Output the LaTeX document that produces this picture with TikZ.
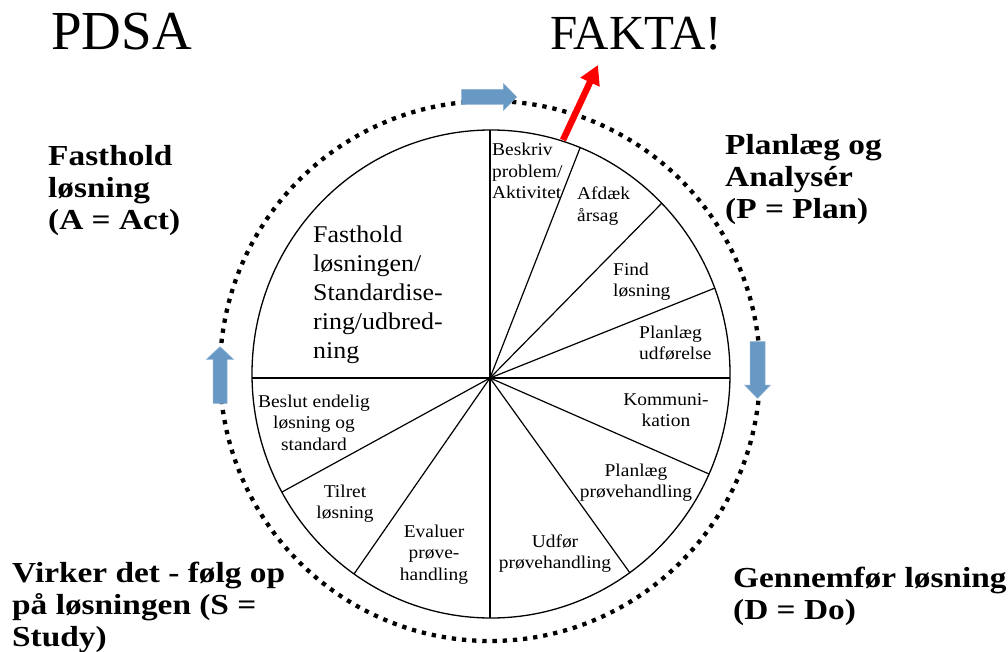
\documentclass[tikz,border=0pt]{standalone}
\usepackage{fontspec}
\setmainfont{Liberation Serif}
\newfontfamily\geo[FakeStretch=1.08]{Liberation Serif}
\newfontfamily\geobf[FakeStretch=1.15]{Liberation Serif}
\usetikzlibrary{arrows.meta}
\definecolor{arrowblue}{RGB}{104,152,196}
\newcommand\txtl[1]{\begin{tabular}[t]{@{}l@{}}#1\end{tabular}}
\newcommand\txtc[1]{\begin{tabular}[t]{@{}c@{}}#1\end{tabular}}
\begin{document}
\begin{tikzpicture}[x=1pt,y=-1pt,
  lbl/.style={inner sep=0pt, font=\geo\fontsize{18}{21.5}\selectfont},
  biglbl/.style={inner sep=0pt, font=\geo\fontsize{24}{29}\selectfont},
  phase/.style={inner sep=0pt, font=\geobf\bfseries\fontsize{29}{32}\selectfont},
  titletext/.style={inner sep=0pt},
  spoke/.style={line width=1.2pt},
  bluearrow/.style={fill=arrowblue, draw=arrowblue!75!white, line width=0.5pt},
]
\useasboundingbox (0,0) rectangle (1008,652);
% dotted outer ring
\draw[line width=4.3pt, dash pattern=on 4.3pt off 5.9pt] (490,371) circle [radius=270pt];
% wheel
\coordinate (C) at (490,378);
\coordinate (rT) at (490,130);
\coordinate (r1) at (580,148);
\coordinate (r2) at (662,203);
\coordinate (r3) at (715,288);
\coordinate (rR) at (730,378);
\coordinate (r4) at (709,474);
\coordinate (r5) at (630,573);
\coordinate (rB) at (490,618);
\coordinate (r6) at (354,574);
\coordinate (r7) at (282,492);
\coordinate (rL) at (252,378);
\coordinate (redbase) at (563,140);
\coordinate (redtip) at (598,65);
\fill[white] (491,374) ellipse [x radius=239pt, y radius=244pt];
\foreach \p in {rT,r1,r2,r3,rR,r4,r5,rB,r6,r7,rL}{\draw[spoke] (C) -- (\p);}
\draw[line width=1.3pt] (491,374) ellipse [x radius=239pt, y radius=244pt];
% red arrow
\draw[red, line width=6.5pt, -{Triangle[length=19pt,width=20pt]}] (redbase) -- (redtip);
% blue arrows
\path[bluearrow] (461.7,89.5) -- (503.3,89.5) -- (503.3,83.5) -- (516.7,97) -- (503.3,110.5) -- (503.3,104.5) -- (461.7,104.5) -- cycle;
\path[bluearrow] (750,341.7) -- (765,341.7) -- (765,385) -- (770.5,385) -- (757.5,398.3) -- (744.5,385) -- (750,385) -- cycle;
\path[bluearrow] (213,403.3) -- (227,403.3) -- (227,359.3) -- (233.5,359.3) -- (220,346.7) -- (206.5,359.3) -- (213,359.3) -- cycle;
% titles
\node[titletext, anchor=base west, font=\fontsize{55}{62}\selectfont] (pdsa) at (51,50) {PDSA};
\node[titletext, anchor=base west, font=\fontsize{49}{56}\selectfont] (fakta) at (550,50) {FAKTA!};
% phase labels
\node[phase, anchor=base west] (act) at (48,166) {\txtl{Fasthold\\løsning\\(A = Act)}};
\node[phase, anchor=base west] (plan) at (725,155) {\txtl{Planlæg og\\Analysér\\(P = Plan)}};
\node[phase, anchor=base west] (study) at (12,582) {\txtl{Virker det - følg op\\på løsningen (S =\\Study)}};
\node[phase, anchor=base west] (do) at (733,587) {\txtl{Gennemfør løsning\\(D = Do)}};
% segment labels
\node[lbl, anchor=base west] (s1) at (492,156) {\txtl{Beskriv\\problem/\\Aktivitet}};
\node[lbl, anchor=base west] (s2) at (577,200) {\txtl{Afdæk\\årsag}};
\node[lbl, anchor=base west] (s3) at (613,275) {\txtl{Find\\løsning}};
\node[lbl, anchor=base west] (s4) at (639,338) {\txtl{Planlæg\\udførelse}};
\node[lbl, anchor=base] (s5) at (666,405) {\txtc{Kommuni-\\kation}};
\node[lbl, anchor=base] (s6) at (636,476) {\txtc{Planlæg\\prøvehandling}};
\node[lbl, anchor=base] (s7) at (555,547) {\txtc{Udfør\\prøvehandling}};
\node[lbl, anchor=base] (s8) at (434,537) {\txtc{Evaluer\\prøve-\\handling}};
\node[lbl, anchor=base] (s9) at (345,497) {\txtc{Tilret\\løsning}};
\node[lbl, anchor=base] (s10) at (314,407) {\txtc{Beslut endelig\\løsning og\\standard}};
\node[biglbl, anchor=base west] (s11) at (313,242) {\txtl{Fasthold\\løsningen/\\Standardise-\\ring/udbred-\\ning}};
\end{tikzpicture}
\end{document}
